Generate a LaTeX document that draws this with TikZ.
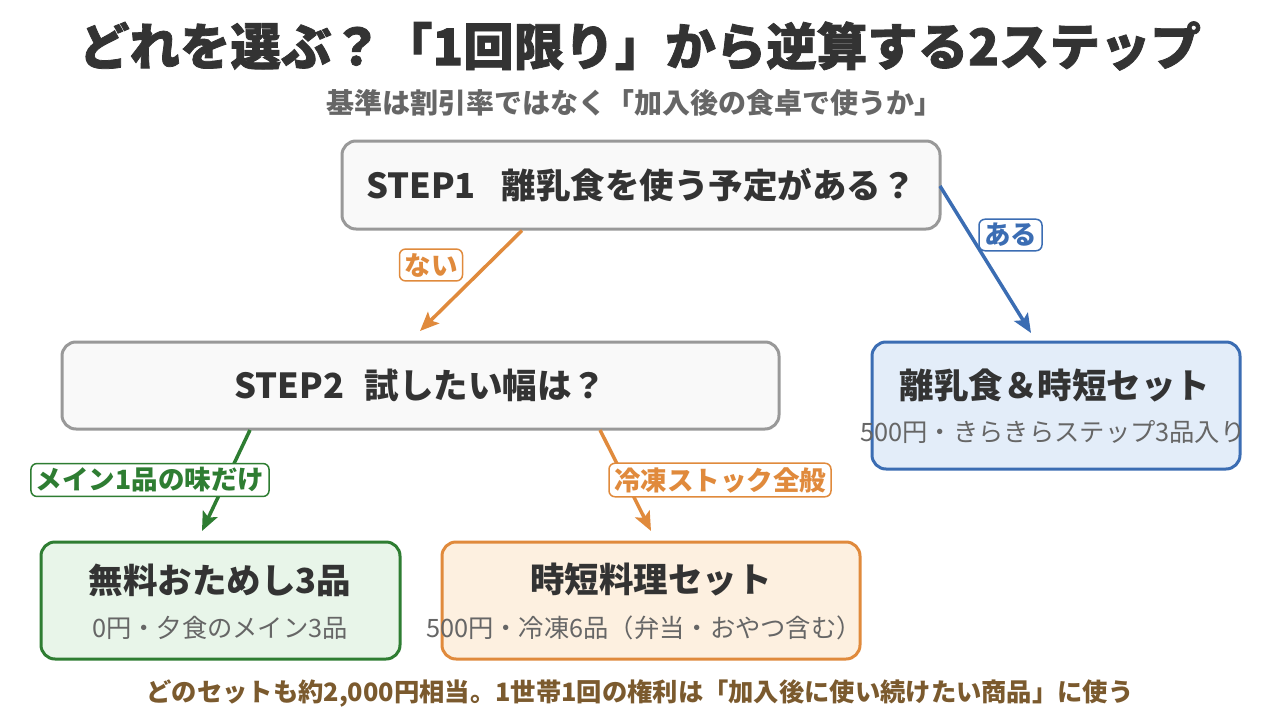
\documentclass[tikz,border=0pt]{standalone}
\usepackage{fontspec}
\setmainfont{Noto Sans CJK JP}
\usetikzlibrary{arrows.meta}
\definecolor{ink}{HTML}{333333}
\definecolor{subg}{HTML}{666666}
\definecolor{boxg}{HTML}{999999}
\definecolor{fillg}{HTML}{F9F9F9}
\definecolor{blu}{HTML}{3B6DB3}
\definecolor{bluf}{HTML}{E3EDF9}
\definecolor{grn}{HTML}{2E7D32}
\definecolor{grnf}{HTML}{E8F5E9}
\definecolor{org}{HTML}{E08A3C}
\definecolor{orgf}{HTML}{FDF0E0}
\definecolor{brn}{HTML}{7B5A2E}
\tikzset{
  box/.style={draw, line width=3pt, rounded corners=14pt, inner sep=0pt},
  qtext/.style={font=\fontsize{34.5}{40}\selectfont\bfseries, text=ink, inner sep=0pt},
  ttext/.style={font=\fontsize{34.5}{40}\selectfont\bfseries, text=ink, inner sep=0pt},
  stext/.style={font=\fontsize{25.3}{30}\selectfont, text=subg, inner sep=0pt},
  arr/.style={line width=3.5pt, -{Stealth[length=19pt,width=16pt,inset=4pt]}},
  elab/.style={draw, fill=white, line width=1.5pt, rounded corners=6pt, inner xsep=5pt, inner ysep=4pt, font=\fontsize{26.5}{30}\selectfont\bfseries},
}
\begin{document}
\begin{tikzpicture}[x=1pt,y=-1pt]
\useasboundingbox[fill=white] (0,0) rectangle (1280,720);
% title
\node[font=\fontsize{50.5}{56}\selectfont\bfseries\addfontfeatures{FakeBold=1.5}, text=ink] (title) at (640,46) {どれを選ぶ？「1回限り」から逆算する2ステップ};
\node[font=\fontsize{28}{32}\selectfont\bfseries, text=subg] (sub) at (634,103) {基準は割引率ではなく「加入後の食卓で使うか」};
% boxes
\node[box, draw=boxg, fill=fillg, minimum width=598pt, minimum height=88pt] (s1) at (641,185) {};
\node[qtext] (s1t) at (s1.center) {STEP1\hspace{0.75em}離乳食を使う予定がある？};
\node[box, draw=boxg, fill=fillg, minimum width=717pt, minimum height=87pt] (s2) at (420.5,385.5) {};
\node[qtext] (s2t) at (s2.center) {STEP2\hspace{0.6em}試したい幅は？};
\node[box, draw=blu, fill=bluf, minimum width=368pt, minimum height=127pt] (rb) at (1056,405.5) {};
\node[ttext] (rbt) at (1055,385) {離乳食＆時短セット};
\node[stext] (rbs) at (1053,432) {500円・きらきらステップ3品入り};
\node[box, draw=grn, fill=grnf, minimum width=359pt, minimum height=117pt] (gb) at (220.5,600.5) {};
\node[ttext] (gbt) at (220,580) {無料おためし3品};
\node[stext] (gbs) at (220,628) {0円・夕食のメイン3品};
\node[box, draw=org, fill=orgf, minimum width=418pt, minimum height=117pt] (ob) at (651,600.5) {};
\node[ttext] (obt) at (651,580) {時短料理セット};
\node[stext] (obs) at (644,628) {500円・冷凍6品（弁当・おやつ含む）};
% connectors
\coordinate (a1s) at (522,230.5);
\coordinate (a1e) at (420,331);
\coordinate (a2s) at (940,186);
\coordinate (a2e) at (1031,333);
\coordinate (a3s) at (250,430);
\coordinate (a3e) at (202,531);
\coordinate (a4s) at (600,430);
\coordinate (a4e) at (651,531);
\draw[arr, draw=org, fill=org] (a1s) -- (a1e);
\draw[arr, draw=blu, fill=blu] (a2s) -- (a2e);
\draw[arr, draw=grn, fill=grn] (a3s) -- (a3e);
\draw[arr, draw=org, fill=org] (a4s) -- (a4e);
% edge labels
\node[elab, draw=org, text=org] (l1) at (431,265) {ない};
\node[elab, draw=blu, text=blu] (l2) at (1010.5,235) {ある};
\node[elab, draw=grn, text=grn] (l3) at (150,480) {メイン1品の味だけ};
\node[elab, draw=org, text=org] (l4) at (720,480) {冷凍ストック全般};
% footer
\node[font=\fontsize{25.3}{30}\selectfont\bfseries, text=brn] (foot) at (640,693) {どのセットも約2,000円相当。1世帯1回の権利は「加入後に使い続けたい商品」に使う};
\end{tikzpicture}
\end{document}
